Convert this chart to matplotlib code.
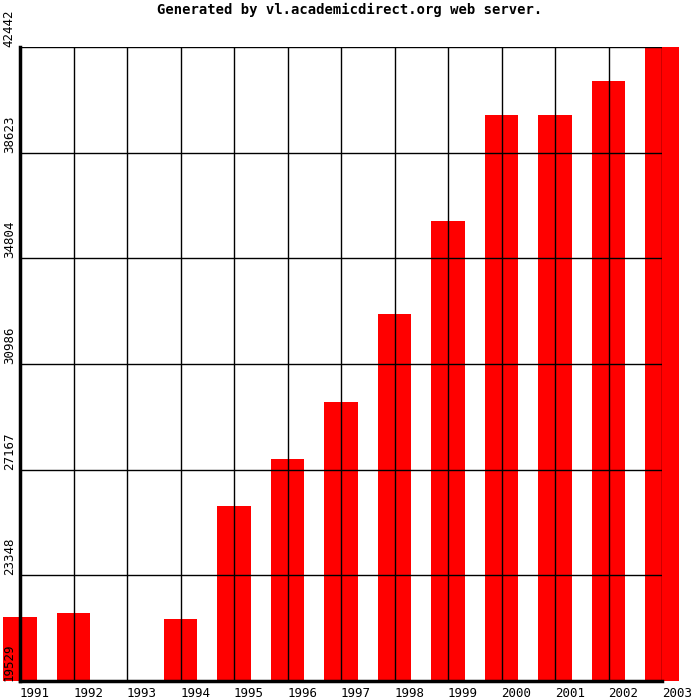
import numpy as np
import matplotlib.pyplot as plt

# data
years = ["1991", "1992", "1993", "1994", "1995", "1996", "1997",
         "1998", "1999", "2000", "2001", "2002", "2003"]
values = [21840, 21990, 0, 21770, 25850, 27550, 29610,
          32790, 36150, 39980, 39980, 41210, 42442]
y_ticks = [19529, 23348, 27167, 30986, 34804, 38623, 42442]

ymin = y_ticks[0]
ymax = y_ticks[-1]

fig = plt.figure(figsize=(7, 7), dpi=100)
ax = fig.add_axes([20/700, 19/700, 642/700, 634/700])

x = np.arange(len(years))
heights = [max(v - ymin, 0) for v in values]
ax.bar(x, heights, bottom=ymin, width=0.62, color="#ff0000",
       linewidth=0, clip_on=False, zorder=1)

ax.set_xlim(0, len(years) - 1)
ax.set_ylim(ymin, ymax)

ax.set_xticks(x)
ax.set_xticklabels(years, family="DejaVu Sans Mono", fontsize=9, ha="left")
ax.set_yticks(y_ticks)
ax.set_yticklabels([str(t) for t in y_ticks], family="DejaVu Sans Mono",
                   fontsize=9, rotation=90, va="bottom", ha="right")
ax.tick_params(axis="x", length=0, pad=4)
ax.tick_params(axis="y", length=0, pad=3)
for lab in ax.get_xticklabels():
    lab.set_x(lab.get_position()[0])

ax.set_axisbelow(False)
ax.grid(True, color="black", linewidth=1.0)

ax.spines["top"].set_visible(False)
ax.spines["right"].set_visible(False)
ax.spines["left"].set_linewidth(2.5)
ax.spines["bottom"].set_linewidth(2.5)

fig.text(0.5, 1 - 10/700, "Generated by vl.academicdirect.org web server.",
         ha="center", va="center", family="DejaVu Sans Mono",
         fontweight="bold", fontsize=10)

fig.savefig("out.png", dpi=100)
